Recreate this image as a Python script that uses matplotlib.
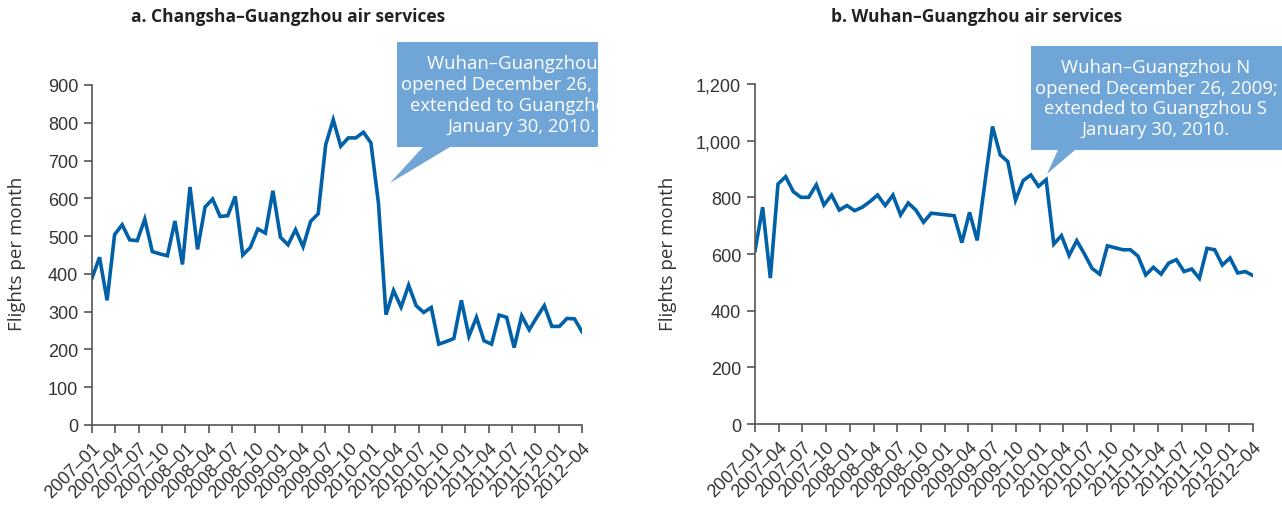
import numpy as np
import matplotlib.pyplot as plt
from matplotlib.patches import Polygon
from matplotlib.transforms import Bbox, TransformedBbox

# monthly flights
changsha = [389, 444, 330, 504, 530, 490, 488, 545, 459, 453, 448, 540, 425, 630, 465, 577,
            598, 552, 554, 605, 450, 470, 519, 508, 620, 497, 477, 517, 472, 539, 559, 742,
            808, 738, 760, 760, 775, 747, 587, 292, 356, 312, 370, 316, 298, 311, 214, 221,
            229, 330, 235, 285, 223, 214, 291, 285, 205, 289, 252, 285, 316, 261, 261, 282,
            281, 247]
wuhan = [612, 765, 515, 847, 873, 820, 800, 800, 844, 773, 808, 755, 771, 753, 765, 785,
         808, 771, 808, 738, 780, 755, 712, 744, 741, 738, 735, 640, 747, 648, 850, 1050,
         950, 926, 790, 859, 879, 839, 862, 635, 665, 595, 647, 600, 549, 529, 629, 622,
         615, 615, 592, 526, 553, 529, 568, 580, 538, 547, 514, 620, 615, 561, 586, 533,
         538, 524]
tick_labels = ['2007–01', '2007–04', '2007–07', '2007–10', '2008–01', '2008–04', '2008–07',
               '2008–10', '2009–01', '2009–04', '2009–07', '2009–10', '2010–01', '2010–04',
               '2010–07', '2010–10', '2011–01', '2011–04', '2011–07', '2011–10', '2012–01',
               '2012–04']
titles = ['a. Changsha–Guangzhou air services', 'b. Wuhan–Guangzhou air services']
note = 'Wuhan–Guangzhou N\nopened December 26, 2009;\nextended to Guangzhou S\nJanuary 30, 2010.'

W, H = 1282, 506
def fx(px): return px / W
def fy(py): return 1 - py / H

LINE = '#0061A8'
BOX = '#6FA6D7'
GREY = '#555555'

fig = plt.figure(figsize=(W / 100, H / 100), dpi=100)

def panel(rect, data, ymax, ystep, fmt):
    ax = fig.add_axes(rect)
    x = np.arange(len(data))
    ax.plot(x, data, color=LINE, lw=2.6, solid_joinstyle='miter')
    ax.set_xlim(0, len(data) - 1)
    ax.set_ylim(0, ymax)
    ax.set_xticks(np.linspace(0, len(data) - 1, len(tick_labels)))
    ax.set_xticklabels(tick_labels, rotation=45, ha='right', va='top', rotation_mode='anchor',
                       fontsize=13, family='Liberation Sans', color='#333333')
    yt = np.arange(0, ymax + 1, ystep)
    ax.set_yticks(yt)
    ax.set_yticklabels([fmt.format(v) for v in yt], fontsize=13, family='Liberation Sans',
                       color='#333333')
    for s in ['top', 'right']:
        ax.spines[s].set_visible(False)
    for s in ['left', 'bottom']:
        ax.spines[s].set_color(GREY)
        ax.spines[s].set_linewidth(1.2)
    ax.tick_params(length=6, width=1.2, color=GREY, pad=4)
    return ax

ax1 = panel([fx(92), fy(426), fx(582) - fx(92), fy(86) - fy(426)], changsha, 900, 100, '{:d}')
ax2 = panel([fx(755), fy(425), fx(1253) - fx(755), fy(85) - fy(425)], wuhan, 1200, 200, '{:,d}')

fig.text(fx(288), fy(17), titles[0], ha='center', va='center', fontsize=12.5,
         fontweight='bold', family='Open Sans', color='#222222')
fig.text(fx(977), fy(17), titles[1], ha='center', va='center', fontsize=12.5,
         fontweight='bold', family='Open Sans', color='#222222')
for px in [17, 668]:
    fig.text(fx(px), fy(254), 'Flights per month', rotation=90, ha='center', va='center',
             fontsize=13.5, family='Open Sans', color='#333333')

# callouts; the left one is cut off at the edge of panel a
callouts = [
    ([(397, 43), (660, 43), (660, 148), (450, 148), (390, 184), (423, 148), (397, 148)], 522, 95.5, 598),
    ([(1031, 47), (1282, 47), (1282, 151), (1075, 151), (1047, 175), (1058, 151), (1031, 151)], 1156, 99, W),
]
for pts, cx, cy, right in callouts:
    clip = TransformedBbox(Bbox([[0, 0], [fx(right), 1]]), fig.transFigure)
    poly = Polygon([(fx(a), fy(b)) for a, b in pts], closed=True, transform=fig.transFigure,
                   facecolor=BOX, edgecolor='none', zorder=5)
    fig.add_artist(poly)
    poly.set_clip_box(clip)
    poly.set_clip_on(True)
    t = fig.text(fx(cx), fy(cy), note, ha='center', va='center', multialignment='center',
                 fontsize=13.3, family='Open Sans', color='white', linespacing=1.2, zorder=6)
    t.set_clip_box(clip)
    t.set_clip_on(True)

fig.savefig('out.png', dpi=100)
